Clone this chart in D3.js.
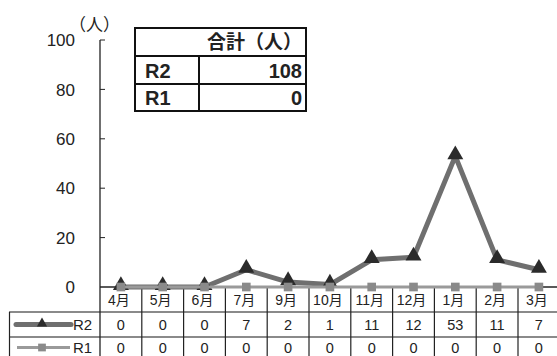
<!DOCTYPE html>
<html><head><meta charset="utf-8">
<script src="https://cdn.jsdelivr.net/npm/d3@7"></script>
<style>
html,body{margin:0;padding:0;background:#fff;}
text{font-family:"Liberation Sans","Noto Sans CJK JP",sans-serif;fill:#222;}
</style>
</head><body>
<svg id="c" width="557" height="356"></svg>
<script>
const months = ["4月","5月","6月","7月","9月","10月","11月","12月","1月","2月","3月"];
const r2 = [0,0,0,7,2,1,11,12,53,11,7];
const r1 = [0,0,0,0,0,0,0,0,0,0,0];
const seriesNames = ["R2","R1"];
const totals = [108,0];
const yTicks = [0,20,40,60,80,100];

const svg = d3.select("#c");
const x0 = 100, colW = 41.8;
const x = d3.scaleBand().domain(months).range([x0, x0 + colW*months.length]).padding(0);
const y = d3.scaleLinear().domain([0,100]).range([287,40]);
const rowTop = 287, rowH = 25, tableBottom = 362;
const cx = d => x(d) + x.bandwidth()/2;

// y axis labels
svg.selectAll(".yl").data(yTicks).enter().append("text")
  .attr("x", 75).attr("y", d => y(d)).attr("dy","0.36em")
  .attr("text-anchor","end").style("font-size","17px").text(d => d);
svg.selectAll(".yt").data(yTicks.filter(d=>d>0)).enter().append("line")
  .attr("x1", x0).attr("x2", x0+5).attr("y1", d=>y(d)).attr("y2", d=>y(d))
  .attr("stroke","#222").attr("stroke-width",1);
svg.append("text").attr("x",69).attr("y",31).style("font-size","17px").text("（人）");

// table grid
const g = svg.append("g");
[rowTop+rowH, rowTop+2*rowH].forEach(yy => {
  g.append("line").attr("x1",9).attr("x2",557).attr("y1",yy).attr("y2",yy)
   .attr("stroke","#8a8a8a").attr("stroke-width",2);
});
const bounds = months.map(m => x(m)).concat([x.range()[1]]);
bounds.slice(1).forEach(bx => {
  g.append("line").attr("x1",bx).attr("x2",bx).attr("y1",rowTop).attr("y2",tableBottom)
   .attr("stroke","#222").attr("stroke-width",1.2);
});
g.append("line").attr("x1",9.5).attr("x2",9.5).attr("y1",rowTop+rowH).attr("y2",tableBottom)
  .attr("stroke","#222").attr("stroke-width",1.2);
g.append("line").attr("x1",x0).attr("x2",x0).attr("y1",y(100)).attr("y2",tableBottom)
  .attr("stroke","#222").attr("stroke-width",1.3);
g.append("line").attr("x1",x0).attr("x2",557).attr("y1",y(0)).attr("y2",y(0))
  .attr("stroke","#222").attr("stroke-width",1.3);

// month labels
svg.selectAll(".ml").data(months).enter().append("text")
  .attr("x", d => cx(d) - 2).attr("y", rowTop + rowH/2 + 0.5).attr("dy","0.36em")
  .attr("text-anchor","middle").style("font-size","14px").text(d => d);
// values
const rowY = [rowTop + rowH*1.5 + 0.5, rowTop + rowH*2.5 - 2];
[r2, r1].forEach((arr, i) => {
  svg.selectAll(".v"+i).data(arr).enter().append("text")
    .attr("x", (d,j) => cx(months[j])).attr("y", rowY[i]).attr("dy","0.36em")
    .attr("text-anchor","middle").style("font-size","14.5px").text(d => d);
});

// lines
const line = d3.line().x((d,i) => cx(months[i])).y(d => y(d));
svg.append("path").datum(r2).attr("d", line).attr("fill","none")
  .attr("stroke","#6f6f6f").attr("stroke-width",5).attr("stroke-linejoin","round");
svg.selectAll(".m2").data(r2).enter().append("path")
  .attr("d", d3.symbol(d3.symbolTriangle, 110))
  .attr("transform", (d,i) => `translate(${cx(months[i])},${y(d)-1.5})`)
  .attr("fill","#2b2b2b");
svg.append("path").datum(r1).attr("d", line).attr("fill","none")
  .attr("stroke","#9a9a9a").attr("stroke-width",3);
svg.selectAll(".m1").data(r1).enter().append("path")
  .attr("d", d3.symbol(d3.symbolSquare, 75))
  .attr("transform", (d,i) => `translate(${cx(months[i])},${y(d)})`)
  .attr("fill","#8a8a8a");

// legend in table
const ly2 = rowTop + rowH + rowH/2, ly1 = rowY[1];
svg.append("line").attr("x1",16).attr("x2",71).attr("y1",ly2).attr("y2",ly2)
  .attr("stroke","#6f6f6f").attr("stroke-width",5).attr("stroke-linecap","round");
svg.append("path").attr("d", d3.symbol(d3.symbolTriangle, 45)).attr("transform",`translate(42,${ly2-1})`).attr("fill","#2b2b2b");
svg.append("line").attr("x1",17).attr("x2",70).attr("y1",ly1).attr("y2",ly1)
  .attr("stroke","#9a9a9a").attr("stroke-width",3);
svg.append("path").attr("d", d3.symbol(d3.symbolSquare, 60)).attr("transform",`translate(42,${ly1})`).attr("fill","#8a8a8a");
seriesNames.forEach((n,i) => {
  svg.append("text").attr("x",73).attr("y",[ly2,ly1][i]).attr("dy","0.36em")
    .style("font-size","15px").text(n);
});

// totals box
const bx = 135, bw = 171, by = 28, bh = 83;
const tb = svg.append("g");
tb.append("rect").attr("x",bx).attr("y",by).attr("width",bw).attr("height",bh)
  .attr("fill","#fff").attr("stroke","#111").attr("stroke-width",2);
[56,84].forEach(yy => tb.append("line").attr("x1",bx).attr("x2",bx+bw).attr("y1",yy).attr("y2",yy)
  .attr("stroke","#111").attr("stroke-width",2));
tb.append("line").attr("x1",199).attr("x2",199).attr("y1",56).attr("y2",by+bh)
  .attr("stroke","#111").attr("stroke-width",2);
tb.append("text").attr("x",302).attr("y",42).attr("dy","0.36em").attr("text-anchor","end")
  .style("font-size","19px").style("font-weight","bold").text("合計（人）");
seriesNames.forEach((n,i) => {
  const yy = [70.5,98][i];
  tb.append("text").attr("x",145).attr("y",yy).attr("dy","0.36em")
    .style("font-size","20px").style("font-weight","bold").text(n);
  tb.append("text").attr("x",302).attr("y",yy).attr("dy","0.36em").attr("text-anchor","end")
    .style("font-size","20px").style("font-weight","bold").text(totals[i]);
});
</script>
</body></html>
